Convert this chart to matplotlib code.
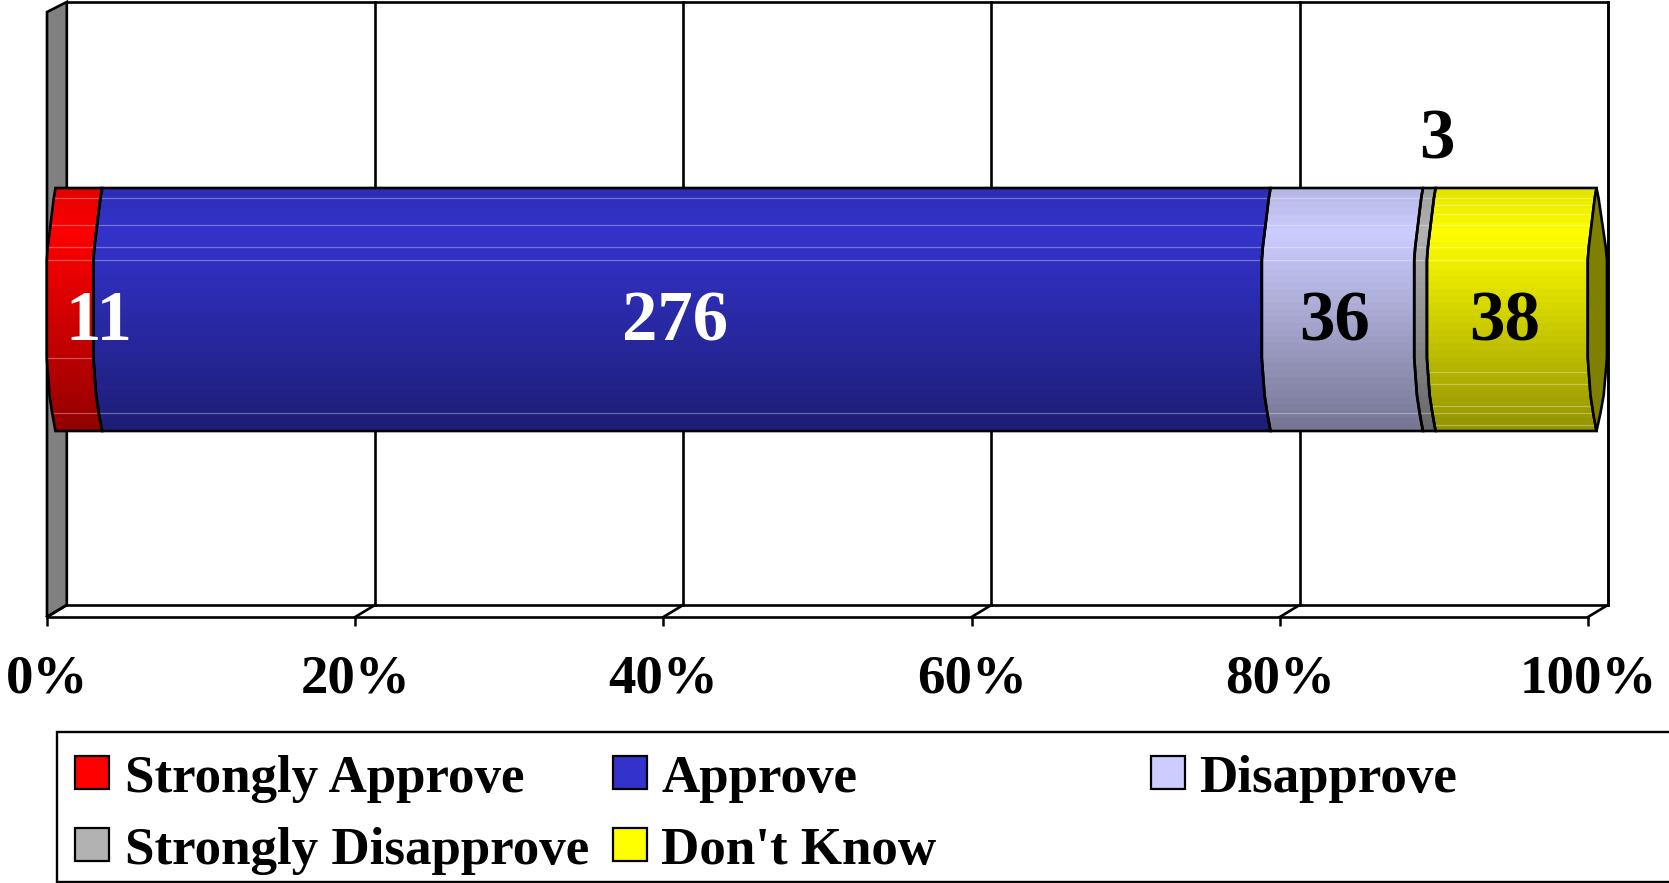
import numpy as np
import matplotlib
matplotlib.use('Agg')
import matplotlib.pyplot as plt
from matplotlib.patches import Rectangle
from matplotlib.colors import to_rgb

categories = ['Strongly Approve', 'Approve', 'Disapprove', 'Strongly Disapprove', "Don't Know"]
values = [11, 276, 36, 3, 38]
colors = ['#FF0000', '#3333CC', '#CCCCFF', '#B2B2B2', '#FFFF00']
label_colors = ['white', 'white', 'black', 'black', 'black']
tick_vals = [0, 20, 40, 60, 80, 100]
tick_labels = ['0%', '20%', '40%', '60%', '80%', '100%']

W, H = 1669, 883
X0, SCALE = 47, 15.41       # px of 0%, px per 1%
FLOOR = 617
DX, DY = 19.8 / SCALE, 12   # depth of the fake 3D box
BAR_DX = 8.5 / SCALE
BAR_TOP, BAR_BOT = 188, 431

plt.rcParams['font.family'] = 'Liberation Serif'
plt.rcParams['font.weight'] = 'bold'

fig = plt.figure(figsize=(W / 100, H / 100), dpi=100)
ax = fig.add_axes([0, (H - FLOOR) / H, 1, FLOOR / H])
ax.set_xlim(-X0 / SCALE, (W - X0) / SCALE)
ax.set_ylim(FLOOR, 0)
for s in ax.spines.values():
    s.set_visible(False)
ax.yaxis.set_visible(False)
ax.set_xticks(tick_vals)
ax.set_xticklabels(tick_labels, fontsize=39.5)
ax.tick_params(axis='x', length=6.5, width=1.8, pad=20.5)

# box: left wall, floor, back grid
lw = 1.9
ax.fill([0, DX, DX, 0], [FLOOR, FLOOR - DY, 2, 2 + 10], color='#808080', ec='black', lw=lw)
ax.plot([0, 100], [FLOOR, FLOOR], color='black', lw=lw, clip_on=False)
ax.plot([DX, 100 + DX], [FLOOR - DY, FLOOR - DY], color='black', lw=lw)
ax.plot([DX, 100 + DX], [2, 2], color='black', lw=lw)
for t in tick_vals:
    ax.plot([t, t + DX], [FLOOR, FLOOR - DY], color='black', lw=lw)
    if t > 0:
        ax.plot([t + DX, t + DX], [FLOOR - DY, 2], color='black', lw=lw)

# the cylinder's curved outline
prof_y = np.array([188, 198, 225, 247, 260, 358, 395, 413, 431])
prof_x = np.array([0, -1.7, -5, -7.7, -8.7, -8.7, -6, -3.3, 0]) / SCALE

# banded shading from top to bottom of the bar
rows = np.linspace(0, 1, 36)
shade = np.interp(rows, [0, 0.18, 1], [0.9, 1.0, 0.58])

total = sum(values)
cum = np.cumsum([0] + values) / total * 100
lines_common = [198, 225, 247, 260, 413]
lines_extra = {0: [358], 4: [205, 214, 372, 384, 406, 425]}

for i, (c, lc) in enumerate(zip(colors, label_colors)):
    l, r = cum[i] + BAR_DX, cum[i + 1] + BAR_DX
    xs = np.r_[l + prof_x, (r + prof_x)[::-1]]
    ys = np.r_[prof_y, prof_y[::-1]]
    poly = ax.fill(xs, ys, color=c, ec='none', zorder=3)[0]
    img = np.outer(shade, to_rgb(c)).reshape(len(rows), 1, 3)
    im = ax.imshow(img, extent=[l - 1, r + 1, BAR_BOT, BAR_TOP], aspect='auto',
                   interpolation='nearest', zorder=3.1)
    im.set_clip_path(poly)
    for y in lines_common + lines_extra.get(i, []):
        ln = ax.plot([l - 1, r + 1], [y, y], color='white', lw=0.9, alpha=0.33, zorder=3.2)[0]
        ln.set_clip_path(poly)
    ax.fill(xs, ys, fc='none', ec='black', lw=lw, zorder=3.3)

# end cap on the right
end = 100 + BAR_DX
ax.fill(np.r_[end + prof_x, (end - 1.2 * prof_x)[::-1]], np.r_[prof_y, prof_y[::-1]],
        fc='#808000', ec='black', lw=lw, zorder=3.4)
ax.plot([100 + DX, 100 + DX], [2, FLOOR - DY], color='black', lw=lw, zorder=2)
ax.set_xlim(-X0 / SCALE, (W - X0) / SCALE)
ax.set_ylim(FLOOR, 0)

# data labels
nudges = {0: 1.88, 1: -0.17, 2: -0.24, 3: 1.05, 4: -0.17}
for i, v in enumerate(values):
    mid = (cum[i] + cum[i + 1]) / 2 + nudges.get(i, 0)
    y = 141 if i == 3 else 323
    ax.text(mid, y, str(v), ha='center', va='center', fontsize=51,
            color=label_colors[i], zorder=5)

# legend laid out in pixels, box runs off the right edge like the original
lg = fig.add_axes([0, 0, 1, 1], facecolor='none')
lg.set_xlim(0, W)
lg.set_ylim(H, 0)
lg.axis('off')
lg.add_patch(Rectangle((57, 732), W, 150, fc='white', ec='black', lw=1.7))
col_x = [75, 613, 1151]
text_x = [125, 661, 1199]
row_y = [756, 828]
order = [(0, 0), (1, 0), (2, 0), (0, 1), (1, 1)]
for (cx, ry), name, c in zip(order, categories, colors):
    lg.add_patch(Rectangle((col_x[cx], row_y[ry]), 34, 33, fc=c, ec='black', lw=1.6))
    lg.text(text_x[cx], row_y[ry] + 36, name, fontsize=38.2, va='baseline', ha='left')

fig.savefig('out.png', dpi=100)
